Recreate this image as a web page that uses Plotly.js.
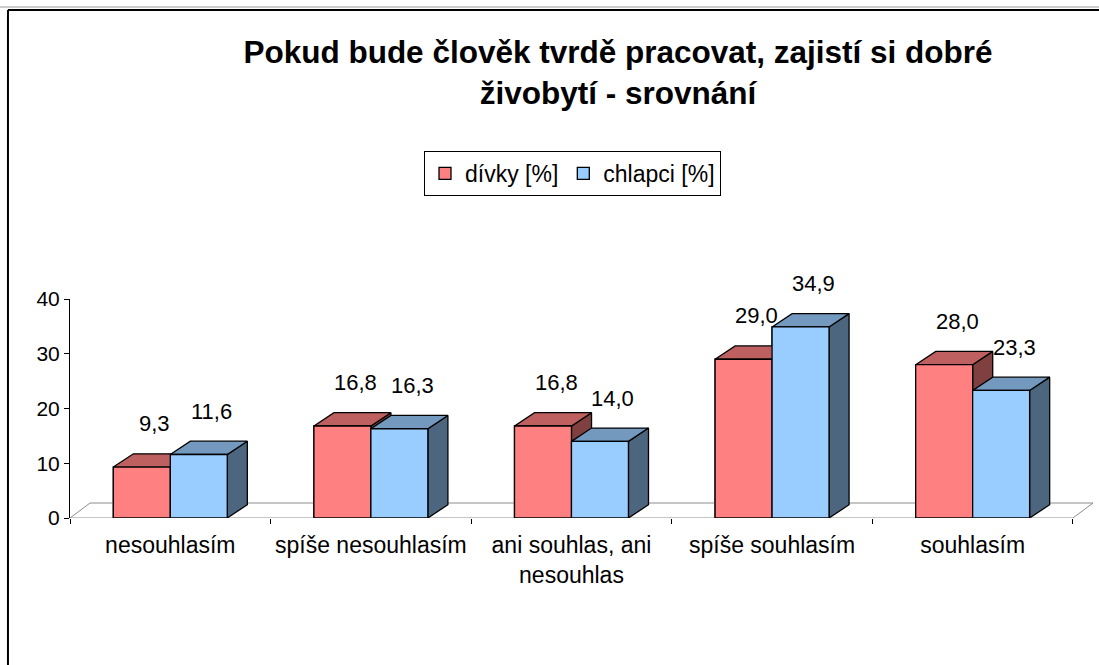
<!DOCTYPE html>
<html>
<head>
<meta charset="utf-8">
<script src="https://cdn.plot.ly/plotly-3.0.1.min.js"></script>
<style>html,body{margin:0;padding:0;background:#fff;}#chart{width:1099px;height:665px;}</style>
</head>
<body>
<div id="chart"></div>
<script>
const categories = ['nesouhlasím', 'spíše nesouhlasím', 'ani souhlas, ani<br>nesouhlas', 'spíše souhlasím', 'souhlasím'];
const divky = [9.3, 16.8, 16.8, 29.0, 28.0];
const chlapci = [11.6, 16.3, 14.0, 34.9, 23.3];
const seriesNames = ['dívky [%]', 'chlapci [%]'];
const yTicks = [0, 10, 20, 30, 40];

const FONT = 'Liberation Sans, Arial, sans-serif';
const W = 0.284;      // bar width (category units)
const DX = 0.1;       // 3D depth in x
const DY = 2.43;      // 3D depth in y (bars)
const FDY = 2.74;     // floor depth
const xIdx = categories.map((_, i) => i);

const colors = [
  {front: '#FF8080', top: '#BF6060', side: '#804040'},
  {front: '#99CCFF', top: '#7399BF', side: '#4D6680'}
];
const allSeries = [divky, chlapci];
const offsets = [-W, 0];

function poly(vals, off, kind) {
  const xs = [], ys = [];
  vals.forEach((v, i) => {
    const x0 = i + off, x1 = x0 + W;
    let px, py;
    if (kind === 'front') { px = [x0, x1, x1, x0, x0]; py = [0, 0, v, v, 0]; }
    else if (kind === 'top') { px = [x0, x1, x1 + DX, x0 + DX, x0]; py = [v, v, v + DY, v + DY, v]; }
    else { px = [x1, x1 + DX, x1 + DX, x1, x1]; py = [0, DY, v + DY, v, 0]; }
    xs.push(...px, null); ys.push(...py, null);
  });
  return {x: xs, y: ys};
}

const traces = [];
allSeries.forEach((vals, s) => {
  traces.push({
    type: 'bar', name: seriesNames[s], x: xIdx, y: vals,
    offset: offsets[s], width: W,
    marker: {color: colors[s].front, line: {color: '#000', width: 1.3}},
    hoverinfo: 'skip'
  });
});
traces.push({
  type: 'scatter', mode: 'lines', showlegend: false, hoverinfo: 'skip',
  x: [-0.5, 4.5, 4.5 + DX, -0.5 + DX, -0.5], y: [0, 0, FDY, FDY, 0],
  line: {color: '#8c8c8c', width: 1}
});
allSeries.forEach((vals, s) => {
  ['side', 'top', 'front'].forEach(kind => {
    const p = poly(vals, offsets[s], kind);
    traces.push({
      type: 'scatter', mode: 'lines', showlegend: false, hoverinfo: 'skip',
      x: p.x, y: p.y, fill: 'toself', fillcolor: colors[s][kind],
      line: {color: '#000', width: 1.3}
    });
  });
});

const annotations = [];
allSeries.forEach((vals, s) => {
  vals.forEach((v, i) => {
    annotations.push({
      x: i + offsets[s] + W / 2 + 0.065, y: v + DY, yshift: 30,
      text: v.toFixed(1).replace('.', ','), showarrow: false,
      font: {family: FONT, size: 22, color: '#000'}
    });
  });
});

const layout = {
  width: 1099, height: 665,
  margin: {l: 70, r: 6, t: 299, b: 147},
  paper_bgcolor: '#fff', plot_bgcolor: 'rgba(0,0,0,0)',
  barmode: 'overlay',
  title: {
    text: '<b>Pokud bude člověk tvrdě pracovat, zajistí si dobré<br>živobytí - srovnání</b>',
    font: {family: FONT, size: 31.5, color: '#000'},
    x: 618 / 1099, xref: 'container', xanchor: 'center',
    y: 1 - 63 / 665, yref: 'container', yanchor: 'top'
  },
  showlegend: true,
  legend: {
    orientation: 'h', xref: 'container', yref: 'container',
    x: 424 / 1099, y: 1 - 151 / 665, xanchor: 'left', yanchor: 'top',
    bordercolor: '#000', borderwidth: 1, bgcolor: '#fff',
    font: {family: FONT, size: 23, color: '#000'},
    tracegroupgap: 0, itemwidth: 30
  },
  xaxis: {
    range: [-0.5, 4.5 + DX], tickmode: 'array', tickvals: xIdx, ticktext: categories,
    ticks: 'outside', ticklen: 6, tickcolor: 'rgba(0,0,0,0)',
    showline: false, showgrid: false, zeroline: false, fixedrange: true,
    tickfont: {family: FONT, size: 23, color: '#000'},
    minor: {tick0: -0.5, dtick: 1, ticks: 'outside', ticklen: 5, tickcolor: '#000', tickwidth: 1, showgrid: false}
  },
  yaxis: {
    range: [0, 40], tickmode: 'array', tickvals: yTicks, ticks: 'outside', ticklen: 5,
    tickcolor: '#000', showline: true, linecolor: '#000', linewidth: 1,
    showgrid: false, zeroline: false, fixedrange: true,
    tickfont: {family: FONT, size: 21, color: '#000'}
  },
  annotations: annotations,
  shapes: [
    {type: 'line', xref: 'paper', yref: 'paper', x0: -0.07, x1: 1.01, y0: (518 - 7) / 219, y1: (518 - 7) / 219, line: {color: '#999', width: 1}},
    {type: 'line', xref: 'paper', yref: 'paper', x0: (8 - 70) / 1022.5, x1: 1.01, y0: (518 - 10) / 219, y1: (518 - 10) / 219, line: {color: '#000', width: 2}},
    {type: 'line', xref: 'paper', yref: 'paper', x0: (8 - 70) / 1022.5, x1: (8 - 70) / 1022.5, y0: (518 - 10) / 219, y1: -0.75, line: {color: '#000', width: 2}}
  ]
};

Plotly.newPlot('chart', traces, layout, {displayModeBar: false, staticPlot: true});
</script>
</body>
</html>
